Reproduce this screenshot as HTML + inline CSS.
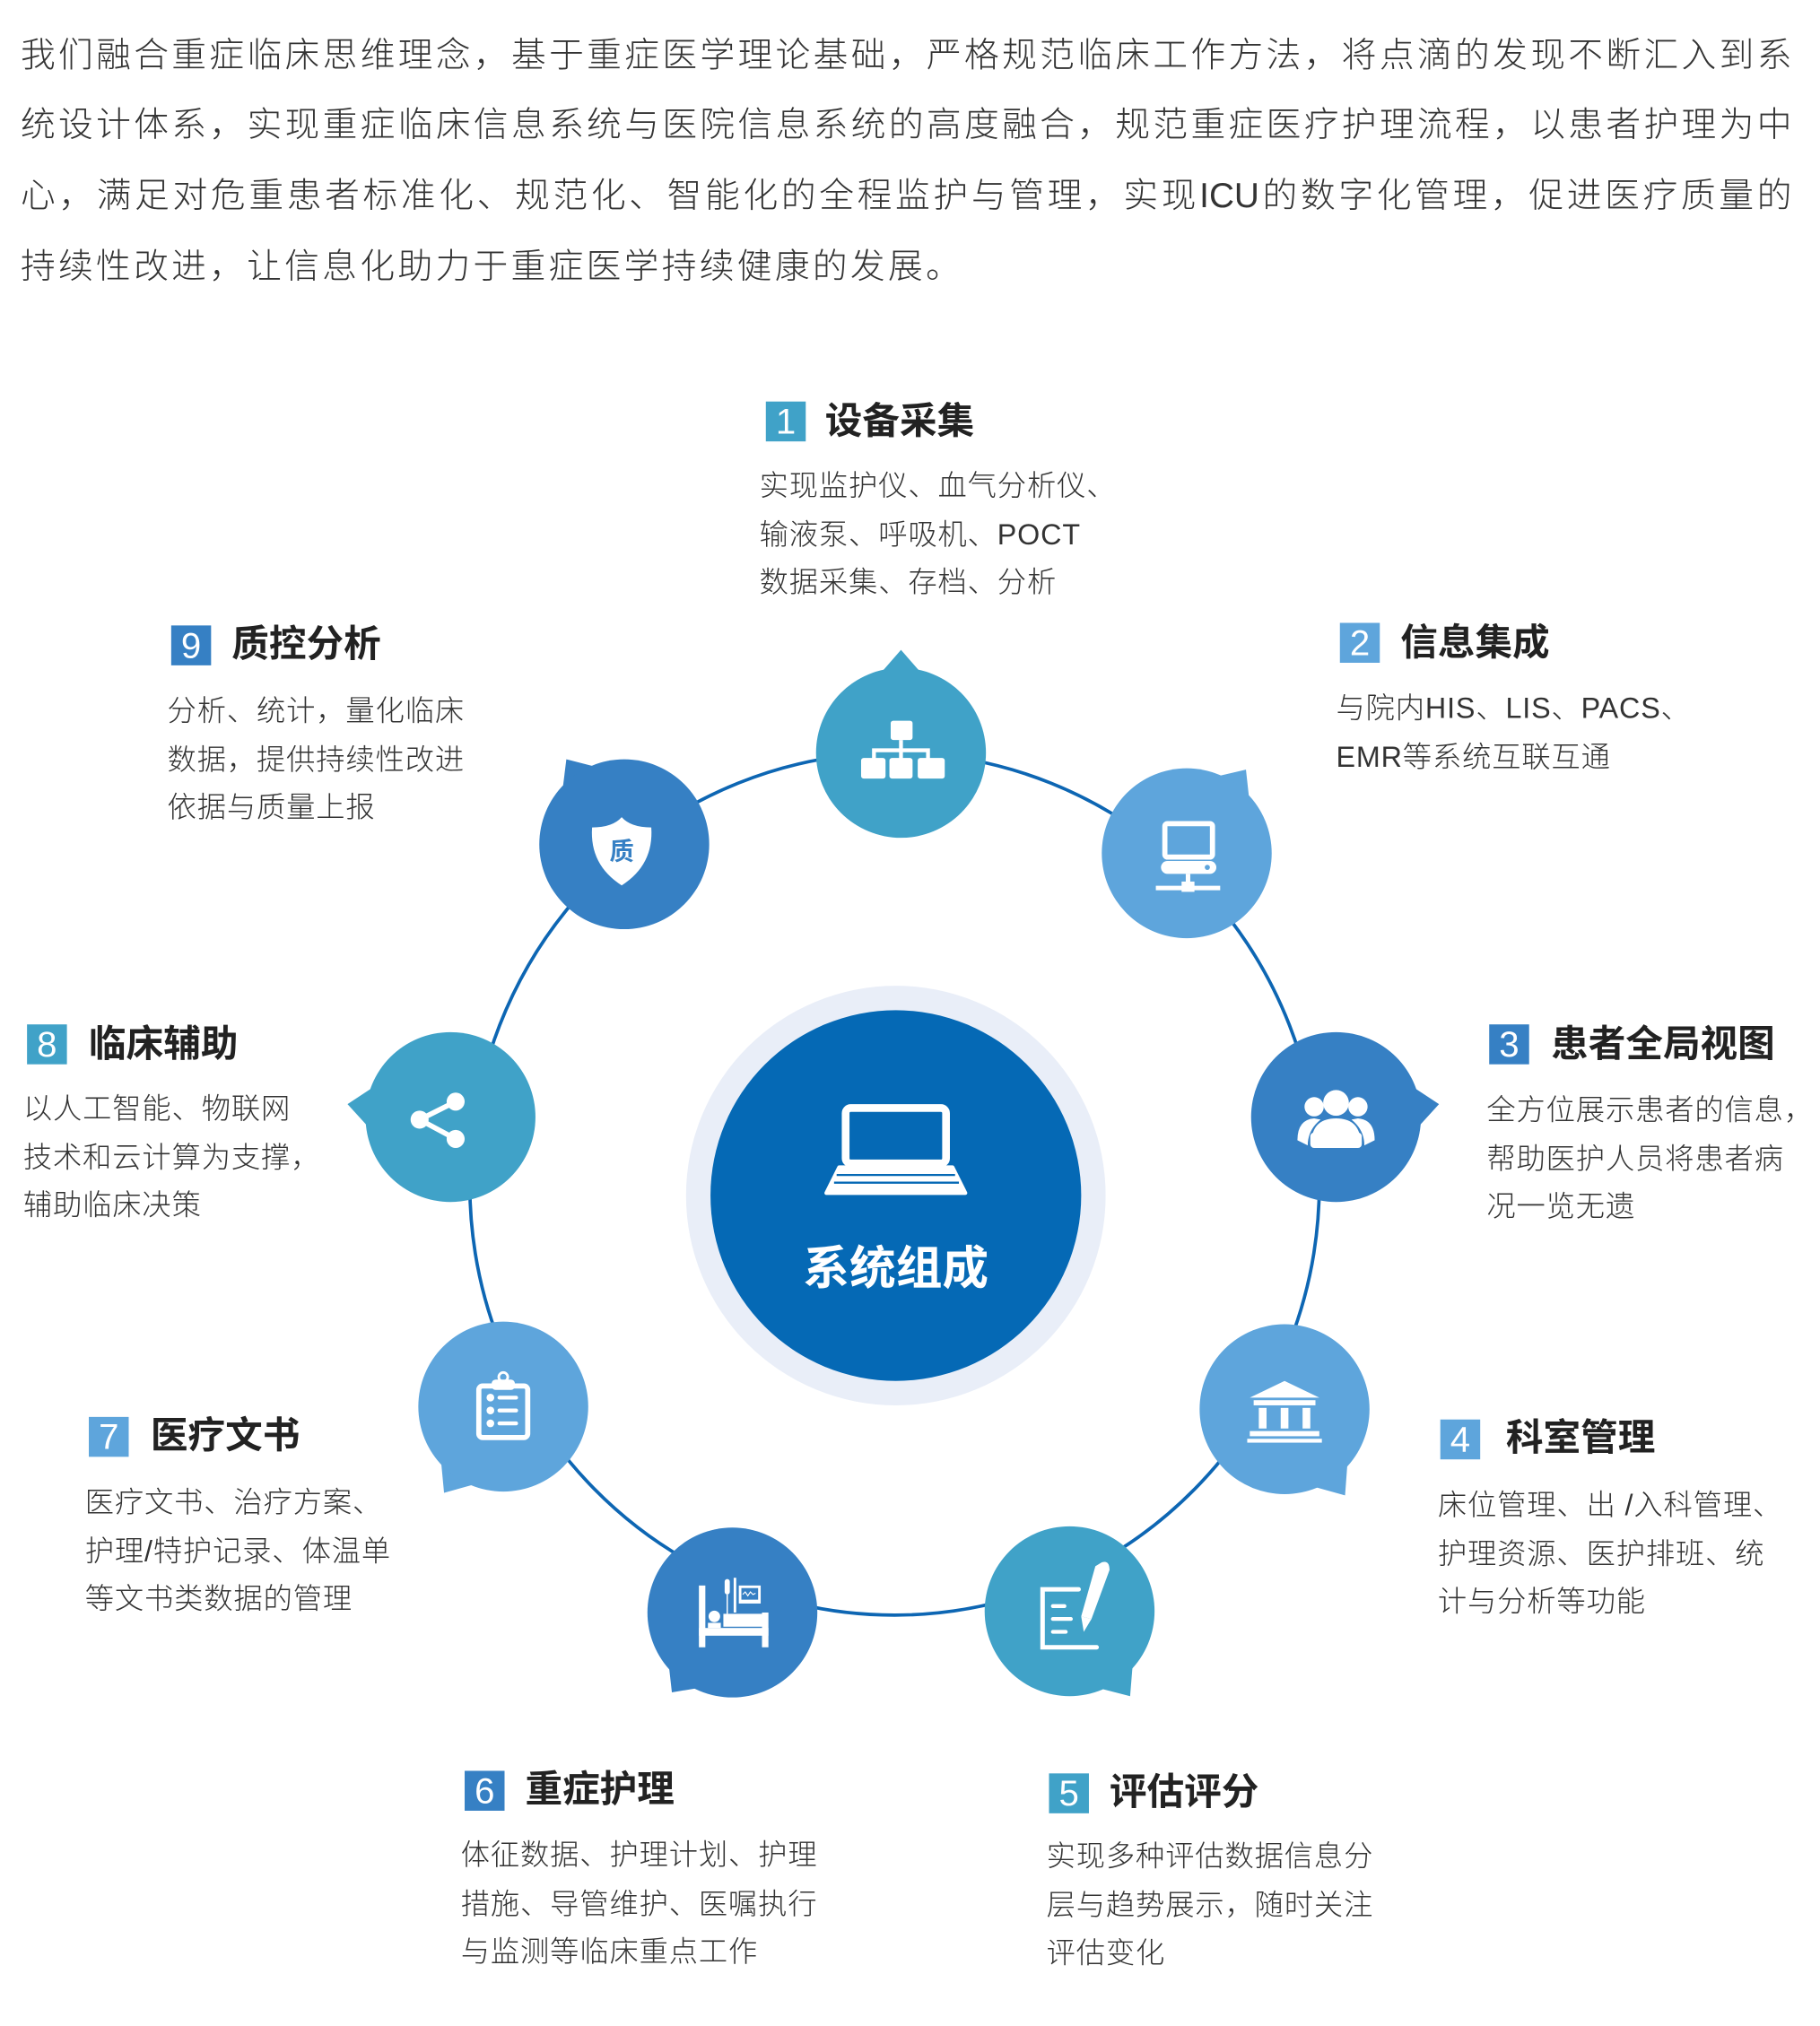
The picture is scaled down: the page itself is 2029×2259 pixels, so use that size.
<!DOCTYPE html>
<html><head><meta charset="utf-8">
<style>
html,body{margin:0;padding:0;background:#fff;width:2029px;height:2258px;overflow:hidden}
#w{position:absolute;left:0;top:0;width:1414px;height:1574px;transform:scale(1.43494);transform-origin:0 0;font-family:"Liberation Sans","Noto Sans CJK SC",sans-serif;color:#333}
.p{position:absolute;left:16px;width:1376px;font-size:27px;line-height:55px;color:#333;white-space:nowrap;text-align:justify;text-align-last:justify;font-weight:300}
.t{position:absolute;font-size:29px;font-weight:bold;color:#222;white-space:nowrap;line-height:32px}
.n{position:absolute;width:31px;height:31px;color:#fff;font-size:28px;line-height:31px;text-align:center;font-weight:normal}
.d{position:absolute;font-size:22.5px;letter-spacing:0.6px;line-height:37.5px;color:#333;white-space:nowrap;font-weight:300}
svg{position:absolute;left:0;top:0}
</style></head><body><div id="w">
<div class="p" style="top:16px">我们融合重症临床思维理念，基于重症医学理论基础，严格规范临床工作方法，将点滴的发现不断汇入到系</div>
<div class="p" style="top:70px">统设计体系，实现重症临床信息系统与医院信息系统的高度融合，规范重症医疗护理流程，以患者护理为中</div>
<div class="p" style="top:125px">心，满足对危重患者标准化、规范化、智能化的全程监护与管理，实现ICU的数字化管理，促进医疗质量的</div>
<div class="p" style="top:180px;text-align-last:left;letter-spacing:2.3px">持续性改进，让信息化助力于重症医学持续健康的发展。</div>

<svg id="g" width="1414" height="1574" viewBox="0 0 1414 1574">
<ellipse cx="695" cy="920" rx="330" ry="335" fill="none" stroke="#0d66b3" stroke-width="2.6"/>
<circle cx="696" cy="929" r="163" fill="#e9eef8"/>
<circle cx="696" cy="929" r="144" fill="#0569b5"/>
<rect x="657" y="861" width="78" height="43" rx="4" fill="none" stroke="#fff" stroke-width="6"/>
<path d="M652 907 L740 907 L750 927 L642 927 Z" fill="#fff" stroke="#fff" stroke-width="3" stroke-linejoin="round"/>
<path d="M650 913 H742 M648 919 H745" stroke="#0569b5" stroke-width="1.6"/>
<text x="696" y="998" text-anchor="middle" font-size="36" font-weight="bold" fill="#fff" font-family="Liberation Sans,Noto Sans CJK SC,sans-serif">系统组成</text>
<g id="nodes"></g>
</svg>

<div class="n" style="left:595px;top:312px;background:#40a2c8">1</div><div class="t" style="left:641px;top:312px">设备采集</div>
<div class="d" style="left:590px;top:359px">实现监护仪、血气分析仪、<br>输液泵、呼吸机、POCT<br>数据采集、存档、分析</div>

<div class="n" style="left:1041px;top:484px;background:#5ea5dc">2</div><div class="t" style="left:1088px;top:484px">信息集成</div>
<div class="d" style="left:1038px;top:532px">与院内HIS、LIS、PACS、<br>EMR等系统互联互通</div>

<div class="n" style="left:1157px;top:796px;background:#3680c4">3</div><div class="t" style="left:1205px;top:796px">患者全局视图</div>
<div class="d" style="left:1155px;top:844px">全方位展示患者的信息，<br>帮助医护人员将患者病<br>况一览无遗</div>

<div class="n" style="left:1119px;top:1103px;background:#5ea5dc">4</div><div class="t" style="left:1170px;top:1102px">科室管理</div>
<div class="d" style="left:1117px;top:1151px">床位管理、出 /入科管理、<br>护理资源、医护排班、统<br>计与分析等功能</div>

<div class="n" style="left:815px;top:1378px;background:#40a2c8">5</div><div class="t" style="left:862px;top:1377px">评估评分</div>
<div class="d" style="left:813px;top:1424px">实现多种评估数据信息分<br>层与趋势展示，随时关注<br>评估变化</div>

<div class="n" style="left:361px;top:1376px;background:#3680c4">6</div><div class="t" style="left:408px;top:1375px">重症护理</div>
<div class="d" style="left:358px;top:1423px">体征数据、护理计划、护理<br>措施、导管维护、医嘱执行<br>与监测等临床重点工作</div>

<div class="n" style="left:69px;top:1101px;background:#5ea5dc">7</div><div class="t" style="left:117px;top:1100px">医疗文书</div>
<div class="d" style="left:66px;top:1149px">医疗文书、治疗方案、<br>护理/特护记录、体温单<br>等文书类数据的管理</div>

<div class="n" style="left:21px;top:796px;background:#40a2c8">8</div><div class="t" style="left:69px;top:796px">临床辅助</div>
<div class="d" style="left:18px;top:843px">以人工智能、物联网<br>技术和云计算为支撑，<br>辅助临床决策</div>

<div class="n" style="left:133px;top:486px;background:#3680c4">9</div><div class="t" style="left:180px;top:485px">质控分析</div>
<div class="d" style="left:130px;top:534px">分析、统计，量化临床<br>数据，提供持续性改进<br>依据与质量上报</div>
</div>
<script>
var T="#40a2c8",L="#5ea5dc",M="#3680c4";
var N=[[700,585,700,505,T],[922,663,968,598,L],[1038,868,1118,858,M],[998,1095,1045,1162,L],[831,1252,878,1318,T],[569,1253,522,1315,M],[391,1093,345,1160,L],[350,868,270,858,T],[485,656,440,590,M]];
var s="";
N.forEach(function(n){
 var cx=n[0],cy=n[1],tx=n[2],ty=n[3],c=n[4];
 var a=Math.atan2(ty-cy,tx-cx),r=58,k=0.42;
 var b1=[cx+r*Math.cos(a+k),cy+r*Math.sin(a+k)],b2=[cx+r*Math.cos(a-k),cy+r*Math.sin(a-k)];
 s+='<polygon points="'+tx+','+ty+' '+b1+' '+b2+'" fill="'+c+'"/>';
 s+='<circle cx="'+cx+'" cy="'+cy+'" r="66" fill="'+c+'"/>';
});
var W='fill="#fff"';
s+='<rect x="692" y="560" width="17" height="15" rx="2" '+W+'/><path d="M700 575V583M679 591V583H721V591M700 583V591" stroke="#fff" stroke-width="3" fill="none"/>';
s+='<rect x="669" y="589" width="19" height="16" rx="2" '+W+'/><rect x="691" y="589" width="18" height="16" rx="2" '+W+'/><rect x="713" y="589" width="21" height="16" rx="2" '+W+'/>';
s+='<rect x="905" y="640" width="37" height="26" rx="2" fill="none" stroke="#fff" stroke-width="4"/><rect x="902" y="669" width="43" height="10" rx="5" '+W+'/><circle cx="938" cy="674" r="2" fill="'+L+'"/>';
s+='<path d="M923 679V690M898 690H948" stroke="#fff" stroke-width="3.5"/><rect x="918" y="685" width="10" height="8" '+W+'/>';
s+='<circle cx="1038" cy="857" r="10" '+W+'/><circle cx="1021" cy="860" r="7.5" '+W+'/><circle cx="1055" cy="860" r="7.5" '+W+'/>';
s+='<path d="M1018 885 Q1020 868 1038 868 Q1056 868 1058 885 Z" '+W+' stroke="'+M+'" stroke-width="2"/><path d="M1008 886 Q1008 870 1021 869 L1026 870 Q1016 878 1016 890 Z" '+W+'/><path d="M1068 886 Q1068 870 1055 869 L1050 870 Q1060 878 1060 890 Z" '+W+'/><rect x="1018" y="880" width="40" height="12" rx="3" '+W+'/>';
s+='<path d="M998 1073 L1025 1086 H971 Z" '+W+'/><rect x="974" y="1088" width="48" height="4" '+W+'/>';
s+='<rect x="978" y="1094" width="6" height="16" '+W+'/><rect x="995" y="1094" width="6" height="16" '+W+'/><rect x="1012" y="1094" width="6" height="16" '+W+'/><rect x="971" y="1112" width="54" height="4" '+W+'/><rect x="969" y="1118" width="58" height="3" '+W+'/>';
s+='<path d="M838 1235 H810 V1280 H852" fill="none" stroke="#fff" stroke-width="3.5" stroke-linecap="round"/><path d="M818 1248H827M818 1258H832M818 1268H828" stroke="#fff" stroke-width="3" stroke-linecap="round"/>';
s+='<path d="M856 1214 Q862 1212 862 1220 L848 1258 L840 1256 L851 1217 Z" '+W+'/><path d="M840 1256 L848 1258 L842 1268 Z" '+W+'/>';
s+='<rect x="543" y="1232" width="5" height="48" '+W+'/><rect x="592" y="1253" width="5" height="27" '+W+'/><rect x="543" y="1265" width="54" height="6" '+W+'/>';
s+='<circle cx="555" cy="1256" r="4.5" '+W+'/><rect x="550" y="1261" width="10" height="4" '+W+'/><rect x="562" y="1254" width="30" height="10" '+W+'/>';
s+='<rect x="563" y="1227" width="4" height="12" rx="2" '+W+'/><path d="M565 1239V1254" stroke="#fff" stroke-width="1"/><rect x="570" y="1226" width="2" height="27" '+W+'/>';
s+='<rect x="574" y="1232" width="17" height="14" '+W+'/><rect x="576" y="1234" width="13" height="9" fill="'+M+'"/><path d="M577 1239 l2 -2 2 3 2 -3 2 2 2 -1" stroke="#fff" stroke-width="0.8" fill="none"/>';
s+='<rect x="372" y="1077" width="38" height="40" rx="3" fill="none" stroke="#fff" stroke-width="4"/><rect x="382" y="1072" width="18" height="8" rx="3" '+W+'/><circle cx="391" cy="1070" r="3.5" fill="none" stroke="#fff" stroke-width="2"/>';
s+='<circle cx="381" cy="1086" r="3" '+W+'/><circle cx="381" cy="1096" r="3" '+W+'/><circle cx="381" cy="1106" r="3" '+W+'/><path d="M388 1086H401M388 1096H401M388 1106H401" stroke="#fff" stroke-width="3" stroke-linecap="round"/>';
s+='<path d="M326 870 L354 856 M326 870 L354 885" stroke="#fff" stroke-width="4"/><circle cx="326" cy="870" r="7" '+W+'/><circle cx="354" cy="856" r="7" '+W+'/><circle cx="354" cy="885" r="7" '+W+'/>';
s+='<path d="M483 635 Q490 643 506 643 Q508 672 483 688 Q458 672 460 643 Q476 643 483 635 Z" '+W+'/><text x="483" y="668" text-anchor="middle" font-size="19" font-weight="bold" fill="'+M+'" font-family="Liberation Sans,Noto Sans CJK SC,sans-serif">质</text>';
document.getElementById("nodes").innerHTML=s;
</script>
</body></html>
